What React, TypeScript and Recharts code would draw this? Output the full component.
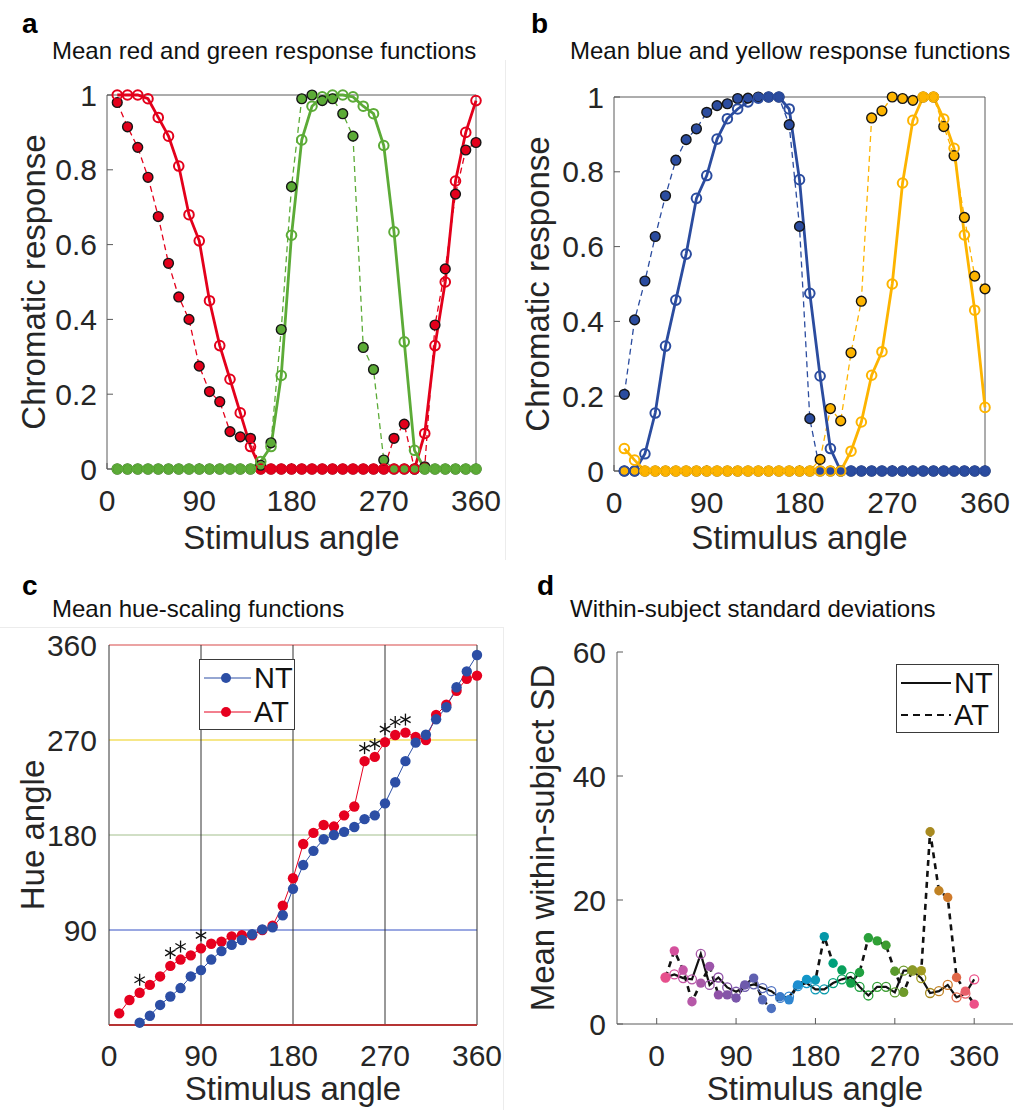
import React from 'react';
import { LineChart, Line, XAxis, YAxis, ReferenceArea, ReferenceLine, Legend } from 'recharts';

const FONT = "'Liberation Sans', Arial, Helvetica, sans-serif";
const TXT = '#262626';
const AXIS = '#5a5a5a';

// ---------- shared ----------
const angles = [10, 20, 30, 40, 50, 60, 70, 80, 90, 100, 110, 120, 130, 140, 150, 160, 170, 180,
  190, 200, 210, 220, 230, 240, 250, 260, 270, 280, 290, 300, 310, 320, 330, 340, 350, 360];
const angleTicks = [0, 90, 180, 270, 360];
const respTicks = [0, 0.2, 0.4, 0.6, 0.8, 1];
const hueTicks = [90, 180, 270, 360];
const sdTicks = [0, 20, 40, 60];

// ---------- panel a ----------
const redNT = [1.0, 1.0, 1.0, 0.99, 0.94, 0.89, 0.81, 0.68, 0.61, 0.45, 0.33, 0.24, 0.15, 0.06,
  0, 0, 0, 0, 0, 0, 0, 0, 0, 0, 0, 0, 0, 0, 0, 0, 0.095, 0.33, 0.5, 0.77, 0.9, 0.985];
const redAT = [0.98, 0.915, 0.86, 0.78, 0.675, 0.55, 0.46, 0.4, 0.275, 0.207, 0.18, 0.1, 0.086, 0.082,
  0, 0, 0, 0, 0, 0, 0, 0, 0, 0, 0, 0, 0, 0.082, 0.12, 0, 0.006, 0.385, 0.535, 0.735, 0.853, 0.873];
const greenNT = [0, 0, 0, 0, 0, 0, 0, 0, 0, 0, 0, 0, 0, 0,
  0.02, 0.06, 0.25, 0.625, 0.88, 0.97, 0.995, 1.0, 1.0, 0.995, 0.97, 0.95, 0.865, 0.634, 0.34, 0.05,
  0, 0, 0, 0, 0, 0];
const greenAT = [0, 0, 0, 0, 0, 0, 0, 0, 0, 0, 0, 0, 0, 0,
  0.01, 0.07, 0.373, 0.755, 0.99, 1.0, 0.985, 0.99, 0.95, 0.89, 0.325, 0.266, 0.024,
  0, 0, 0, 0, 0, 0, 0, 0, 0];

// ---------- panel b ----------
const blueNT = [0, 0, 0.046, 0.155, 0.334, 0.457, 0.58, 0.729, 0.79, 0.8875, 0.942, 0.968, 0.987, 0.997,
  1.0, 1.0, 0.968, 0.779, 0.475, 0.254, 0.06, 0, 0, 0, 0, 0, 0, 0, 0, 0, 0, 0, 0, 0, 0, 0];
const blueAT = [0.205, 0.404, 0.508, 0.627, 0.736, 0.831, 0.886, 0.915, 0.959, 0.977, 0.982, 0.996, 0.997, 1.0,
  1.0, 1.0, 0.926, 0.654, 0.14, 0, 0, 0, 0, 0, 0, 0, 0, 0, 0, 0, 0, 0, 0, 0, 0, 0];
const yellowNT = [0.06, 0.029, 0, 0, 0, 0, 0, 0, 0, 0, 0, 0, 0, 0, 0, 0, 0, 0, 0, 0, 0, 0,
  0.053, 0.131, 0.256, 0.319, 0.5, 0.77, 0.9375, 1.0, 1.0, 0.941, 0.863, 0.631, 0.43, 0.17];
const yellowAT = [0, 0, 0, 0, 0, 0, 0, 0, 0, 0, 0, 0, 0, 0, 0, 0, 0, 0, 0,
  0.031, 0.167, 0.134, 0.316, 0.454, 0.944, 0.963, 1.0, 0.996, 0.991, 1.0, 1.0, 0.921, 0.843, 0.678, 0.521, 0.487];

// ---------- panel c ----------
const hueNT = [null, null, 2.2, 8.8, 19, 27, 35, 46, 52, 62, 70, 76, 80.5, 86, 90.6, 92.5, 104, 129,
  151.6, 165, 176, 180, 183, 187.6, 195, 198.6, 210, 230, 250, 267.5, 275, 289.6, 301, 320, 335, 350.5];
const hueAT = [11, 23.7, 30.6, 38, 46, 56, 62, 66, 72.6, 77, 79, 84, 85, 85, 90, 94, 113, 139,
  171.5, 182, 189.5, 188, 198.6, 207, 250, 254, 268, 274.7, 277, 273, 270, 293.7, 303.5, 316.7, 328, 331];
const sigAngles = [30, 60, 70, 90, 250, 260, 270, 280, 290];

// ---------- panel d ----------
const sdNT = [7.5, 8.0, 7.4, 7.2, 11.3, 6.3, 7.5, 5.9, 5.2, 6.0, 6.4, 5.8, 5.3, 4.2, 4.4, 6.1, 6.6, 5.6,
  5.6, 6.6, 7.2, 7.6, 6.0, 4.6, 6.0, 6.0, 5.1, 8.6, 8.6, 7.4, 5.0, 5.3, 6.3, 4.3, 4.9, 7.2];
const sdAT = [7.5, 11.8, 8.7, 3.6, 6.6, 9.3, 4.7, 4.7, 4.2, 6.3, 7.4, 3.9, 2.5, 4.4, 3.9, 6.3, 7.2, 7.1,
  14.1, 9.8, 8.7, 6.6, 8.3, 13.9, 13.4, 12.7, 8.5, 5.1, 8.7, 8.6, 31.0, 21.5, 20.4, 7.5, 5.3, 3.2];
const hueColors = ['#e6508c', '#d4509c', '#c456a6', '#b658a8', '#a858a8', '#9c55aa', '#9052a8', '#8554a8',
  '#7a56aa', '#6e5aac', '#6060b0', '#5868b8', '#4c70c0', '#3a7ac8', '#2f86d0', '#1e8ed0', '#1296c8', '#0e9ab8',
  '#0598a8', '#00a07c', '#08a05c', '#14a048', '#20a040', '#2aa03a', '#30a035', '#3c9c30', '#5a9a2e', '#6e9a2a',
  '#8a9a28', '#a09a20', '#a88a20', '#c08224', '#d07a2a', '#e06848', '#e8606a', '#ec5088'];

// colours
const RED = '#e3001b';
const GREEN = '#5cab37';
const BLUE_B = '#2b4c9f';
const YELLOW = '#fdb400';
const BLUE_C = '#2c4ea5';
const RED_C = '#e6001f';

// ---------- data tables ----------
const dataA = angles.map((a, i) => ({ angle: a, redNT: redNT[i], redAT: redAT[i], greenNT: greenNT[i], greenAT: greenAT[i] }));
const dataB = angles.map((a, i) => ({ angle: a, blueNT: blueNT[i], blueAT: blueAT[i], yellowNT: yellowNT[i], yellowAT: yellowAT[i] }));
const dataC = angles.map((a, i) => ({ angle: a, nt: hueNT[i], at: hueAT[i], star: sigAngles.includes(a) ? hueAT[i] : null }));
const dataD = angles.map((a, i) => ({ angle: a, nt: sdNT[i], at: sdAT[i], color: hueColors[i] }));

// ---------- helpers ----------
const XTick = (p: any) => (
  <text x={p.x} y={p.y} dy="0.71em" textAnchor="middle" fontSize={30} fontFamily={FONT} fill={TXT}>
    {p.payload.value}
  </text>
);
const YTick = (p: any) => (
  <text x={p.x} y={p.y} dy="0.355em" textAnchor="end" fontSize={30} fontFamily={FONT} fill={TXT}>
    {p.payload.value}
  </text>
);
const XLabel = (p: any) => {
  const vb = p.viewBox || { x: 0, y: 0, width: 0 };
  return (
    <text x={vb.x + vb.width / 2} y={vb.y + p.off} dy="0.71em" textAnchor="middle" fontSize={33}
      fontFamily={FONT} fill={TXT}>{p.value}</text>
  );
};
const YLabel = (p: any) => {
  const vb = p.viewBox || { x: 0, y: 0, height: 0 };
  const cx = vb.x + p.off;
  const cy = vb.y + vb.height / 2;
  return (
    <text x={cx} y={cy} dy="0.355em" textAnchor="middle" transform={`rotate(-90 ${cx} ${cy})`} fontSize={33}
      fontFamily={FONT} fill={TXT}>{p.value}</text>
  );
};

const openDot = (color: string, r = 4.8, sw = 2) => (p: any) => {
  if (p.cx == null || p.cy == null) return <g key={`oe-${color}-${p.index}`} />;
  return <circle key={`o-${color}-${p.index}`} cx={p.cx} cy={p.cy} r={r} fill="none" stroke={color} strokeWidth={sw} />;
};
const edgeDot = (color: string, r = 4.9) => (p: any) => {
  if (p.cx == null || p.cy == null) return <g key={`fe-${color}-${p.index}`} />;
  return <circle key={`f-${color}-${p.index}`} cx={p.cx} cy={p.cy} r={r} fill={color} stroke="#151515" strokeWidth={1.4} />;
};
const solidDot = (color: string, r = 5.2) => (p: any) => {
  if (p.cx == null || p.cy == null) return <g key={`se-${color}-${p.index}`} />;
  return <circle key={`s-${color}-${p.index}`} cx={p.cx} cy={p.cy} r={r} fill={color} stroke="none" />;
};
const starDot = (p: any) => {
  if (p.cx == null || p.cy == null) return <g key={`ste-${p.index}`} />;
  const cx = p.cx;
  const cy = p.cy - 13;
  const L = 6;
  return (
    <g key={`st-${p.index}`} stroke="#111" strokeWidth={1.3}>
      <line x1={cx} y1={cy - L} x2={cx} y2={cy + L} />
      <line x1={cx - L * 0.866} y1={cy - L * 0.5} x2={cx + L * 0.866} y2={cy + L * 0.5} />
      <line x1={cx - L * 0.866} y1={cy + L * 0.5} x2={cx + L * 0.866} y2={cy - L * 0.5} />
    </g>
  );
};
const hueOpenDot = (p: any) => {
  if (p.cx == null || p.cy == null) return <g key={`hoe-${p.index}`} />;
  return <circle key={`ho-${p.index}`} cx={p.cx} cy={p.cy} r={4.5} fill="none" stroke={p.payload.color} strokeWidth={1.3} />;
};
const hueFillDot = (p: any) => {
  if (p.cx == null || p.cy == null) return <g key={`hfe-${p.index}`} />;
  return <circle key={`hf-${p.index}`} cx={p.cx} cy={p.cy} r={4.7} fill={p.payload.color} stroke="none" />;
};

const LegendC = () => (
  <svg width={97} height={72} style={{ display: 'block' }}>
    <rect x={0.5} y={0.5} width={95} height={70} fill="#fff" stroke="#3a3a3a" strokeWidth={1} />
    <line x1={5} x2={52} y1={19} y2={19} stroke={BLUE_C} strokeWidth={1} />
    <circle cx={27} cy={19} r={5} fill={BLUE_C} />
    <text x={55} y={19} dy="0.355em" fontSize={29} fontFamily={FONT} fill="#111">NT</text>
    <line x1={5} x2={52} y1={53} y2={53} stroke={RED_C} strokeWidth={1} />
    <circle cx={27} cy={53} r={5} fill={RED_C} />
    <text x={55} y={53} dy="0.355em" fontSize={29} fontFamily={FONT} fill="#111">AT</text>
  </svg>
);
const LegendD = () => (
  <svg width={104} height={70} style={{ display: 'block' }}>
    <rect x={0.5} y={0.5} width={102} height={68} fill="#fff" stroke="#3a3a3a" strokeWidth={1} />
    <line x1={5} x2={55} y1={19} y2={19} stroke="#111" strokeWidth={2} />
    <text x={58} y={19} dy="0.355em" fontSize={29} fontFamily={FONT} fill="#111">NT</text>
    <line x1={5} x2={55} y1={51} y2={51} stroke="#111" strokeWidth={2} strokeDasharray="7 5" />
    <text x={58} y={51} dy="0.355em" fontSize={29} fontFamily={FONT} fill="#111">AT</text>
  </svg>
);

const abs = (left: number, top: number, width: number, height: number): React.CSSProperties => ({
  position: 'absolute', left, top, width, height, overflow: 'hidden',
});

const ResponsePanel = (props: any) => {
  const { data, series, margin, xOff, yOff } = props;
  return (
    <LineChart width={props.width} height={props.height} data={data} margin={margin}>
      <XAxis type="number" dataKey="angle" domain={[0, 360]} ticks={angleTicks} height={props.xh}
        axisLine={false} tickSize={-6} tickMargin={27} tickLine={{ stroke: AXIS }} tick={XTick}
        label={<XLabel value="Stimulus angle" off={xOff} />} />
      <YAxis type="number" domain={[0, 1]} ticks={respTicks} width={100}
        axisLine={false} tickSize={-6} tickMargin={16} tickLine={{ stroke: AXIS }} tick={YTick}
        label={<YLabel value="Chromatic response" off={yOff} />} />
      <ReferenceArea x1={0} x2={360} y1={0} y2={1} fill="none" stroke={AXIS} strokeWidth={1} fillOpacity={0} />
      {series.map((s: any) => (
        <Line key={s.key} dataKey={s.key} type="linear" stroke={s.color} isAnimationActive={false}
          strokeWidth={s.at ? 1.3 : 2.8} strokeDasharray={s.at ? '6 4' : undefined}
          dot={s.at ? edgeDot(s.color) : openDot(s.color)} activeDot={false} />
      ))}
    </LineChart>
  );
};

export default function App() {
  return (
    <div style={{ position: 'absolute', left: 0, top: 0, width: 1013, height: 1110, background: '#fff', fontFamily: FONT }}>
      {/* panel a */}
      <div style={abs(0, 0, 510, 570)}>
        <ResponsePanel width={510} height={570} data={dataA} xh={100} xOff={57} yOff={26}
          margin={{ top: 95, right: 34, bottom: 1, left: 7 }}
          series={[
            { key: 'redAT', color: RED, at: true },
            { key: 'greenAT', color: GREEN, at: true },
            { key: 'redNT', color: RED, at: false },
            { key: 'greenNT', color: GREEN, at: false },
          ]} />
      </div>
      {/* panel b */}
      <div style={abs(500, 0, 513, 570)}>
        <ResponsePanel width={513} height={570} data={dataB} xh={99} xOff={55} yOff={23.5}
          margin={{ top: 97, right: 28, bottom: 0, left: 14 }}
          series={[
            { key: 'yellowAT', color: YELLOW, at: true },
            { key: 'blueAT', color: BLUE_B, at: true },
            { key: 'blueNT', color: BLUE_B, at: false },
            { key: 'yellowNT', color: YELLOW, at: false },
          ]} />
      </div>
      {/* panel c */}
      <div style={abs(0, 560, 510, 550)}>
        <LineChart width={510} height={550} data={dataC} margin={{ top: 85, right: 33, bottom: 1, left: 9 }}>
          <XAxis type="number" dataKey="angle" domain={[0, 360]} ticks={angleTicks} height={84}
            axisLine={false} tickLine={false} tickSize={0} tickMargin={20} tick={XTick}
            label={<XLabel value="Stimulus angle" off={52} />} />
          <YAxis type="number" domain={[0, 360]} ticks={hueTicks} width={100}
            axisLine={false} tickLine={false} tickSize={0} tickMargin={12} tick={YTick}
            label={<YLabel value="Hue angle" off={23} />} />
          <ReferenceLine y={90} stroke="#3550c4" strokeWidth={1} />
          <ReferenceLine y={180} stroke="#a3bf8c" strokeWidth={1} />
          <ReferenceLine y={270} stroke="#f3df60" strokeWidth={1.3} />
          <ReferenceLine y={360} stroke="#d84848" strokeWidth={1.2} />
          <ReferenceLine x={0} stroke="#333" strokeWidth={1} />
          <ReferenceLine x={90} stroke="#333" strokeWidth={1} />
          <ReferenceLine x={180} stroke="#333" strokeWidth={1} />
          <ReferenceLine x={270} stroke="#333" strokeWidth={1} />
          <ReferenceLine x={360} stroke="#333" strokeWidth={1} />
          <ReferenceLine y={0} stroke="#b53434" strokeWidth={2} />
          <Line dataKey="at" type="linear" stroke={RED_C} strokeWidth={1} isAnimationActive={false}
            dot={solidDot(RED_C)} activeDot={false} />
          <Line dataKey="nt" type="linear" stroke={BLUE_C} strokeWidth={1} isAnimationActive={false}
            dot={solidDot(BLUE_C)} activeDot={false} />
          <Line dataKey="star" type="linear" stroke="none" strokeWidth={0} isAnimationActive={false}
            dot={starDot} activeDot={false} legendType="none" />
          <Legend layout="vertical" align="center" verticalAlign="middle" content={<LegendC />}
            wrapperStyle={{ left: 199, top: 99, width: 97, height: 72 }} />
        </LineChart>
      </div>
      {/* panel d */}
      <div style={abs(500, 560, 513, 550)}>
        <LineChart width={513} height={550} data={dataD} margin={{ top: 92, right: 0, bottom: 1, left: 0 }}>
          <XAxis type="number" dataKey="angle" domain={[-45, 404]} ticks={angleTicks} height={85}
            axisLine={{ stroke: AXIS }} tickSize={-6} tickMargin={27} tickLine={{ stroke: AXIS }} tick={XTick}
            label={<XLabel value="Stimulus angle" off={53} />} />
          <YAxis type="number" domain={[0, 60]} ticks={sdTicks} width={117}
            axisLine={{ stroke: AXIS }} tickSize={-6} tickMargin={17} tickLine={{ stroke: AXIS }} tick={YTick}
            label={<YLabel value="Mean within-subject SD" off={42} />} />
          <Line dataKey="at" type="linear" stroke="none" strokeWidth={0} isAnimationActive={false}
            dot={hueFillDot} activeDot={false} />
          <Line dataKey="nt" type="linear" stroke="none" strokeWidth={0} isAnimationActive={false}
            dot={hueOpenDot} activeDot={false} />
          <Line dataKey="nt" type="linear" stroke="#111" strokeWidth={2.2} isAnimationActive={false}
            dot={false} activeDot={false} />
          <Line dataKey="at" type="linear" stroke="#111" strokeWidth={2.6} strokeDasharray="6 5"
            isAnimationActive={false} dot={false} activeDot={false} />
          <Legend layout="vertical" align="center" verticalAlign="middle" content={<LegendD />}
            wrapperStyle={{ left: 396, top: 104, width: 104, height: 70 }} />
        </LineChart>
      </div>
      {/* titles and panel letters */}
      <svg width={1013} height={1110} style={{ position: 'absolute', left: 0, top: 0, pointerEvents: 'none' }}>
        <line x1={505.5} y1={60} x2={505.5} y2={560} stroke="#ececec" strokeWidth={1} />
        <line x1={0} y1={627.5} x2={503} y2={627.5} stroke="#ececec" strokeWidth={1} />
        <line x1={503.5} y1={627} x2={503.5} y2={1110} stroke="#ececec" strokeWidth={1} />
        <text x={22} y={33} fontSize={28} fontWeight="bold" fontFamily={FONT} fill="#000">a</text>
        <text x={531} y={33} fontSize={28} fontWeight="bold" fontFamily={FONT} fill="#000">b</text>
        <text x={22} y={595} fontSize={28} fontWeight="bold" fontFamily={FONT} fill="#000">c</text>
        <text x={537} y={595} fontSize={28} fontWeight="bold" fontFamily={FONT} fill="#000">d</text>
        <text x={52} y={59} fontSize={24} fontFamily={FONT} fill="#111">Mean red and green response functions</text>
        <text x={570} y={59} fontSize={24} fontFamily={FONT} fill="#111">Mean blue and yellow response functions</text>
        <text x={52} y={617} fontSize={24} fontFamily={FONT} fill="#111">Mean hue-scaling functions</text>
        <text x={570} y={617} fontSize={24} fontFamily={FONT} fill="#111">Within-subject standard deviations</text>
      </svg>
    </div>
  );
}
